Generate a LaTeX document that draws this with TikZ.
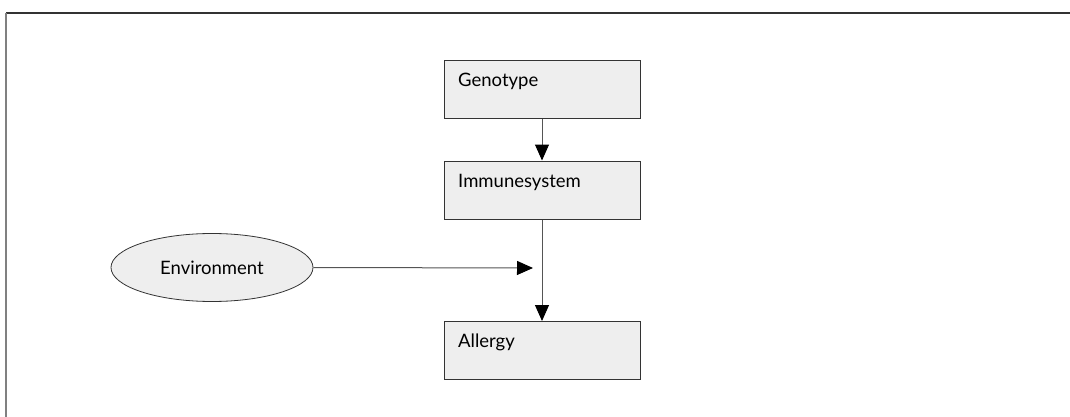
\documentclass[tikz,border=0pt]{standalone}
\usepackage{fontspec}
\setmainfont{Lato}
\usetikzlibrary{arrows.meta,shapes.geometric}
\definecolor{boxfill}{HTML}{EEEEEE}
\definecolor{boxline}{HTML}{333333}
\definecolor{conn}{HTML}{555555}
\tikzset{
  x=1pt,y=-1pt,
  box/.style={draw=boxline,line width=1pt,fill=boxfill,minimum width=196pt,minimum height=58pt,inner sep=0pt},
  lbl/.style={anchor=base west,font=\fontsize{18.5}{20}\selectfont,text=black,inner sep=0pt},
  oval/.style={ellipse,draw=boxline,line width=0.8pt,fill=boxfill,minimum width=202pt,minimum height=68pt,inner sep=0pt,font=\fontsize{18.5}{20}\selectfont},
  conn/.style={draw=conn,line width=1pt,-{Triangle[length=16pt,width=14pt,color=black]}}
}
\begin{document}
\begin{tikzpicture}
\useasboundingbox (0,0) rectangle (1070,417);
\draw[boxline,line width=2pt] (6,13.5) -- (1070,13.5);
\draw[gray,line width=2.5pt] (6,13) -- (6,417);
\node[box] (geno) at (542,90) {};
\node[box] (imm) at (542,190) {};
\node[box] (all) at (542,350.5) {};
\node[lbl] (genot) at (458,87) {Genotype};
\node[lbl] (immt) at (458,187) {Immunesystem};
\node[lbl] (allt) at (458,347) {Allergy};
\node[oval] (env) at (212,267.5) {Environment};
\coordinate (tip) at (533,268);
\draw[conn] (geno.south) -- (imm.north);
\draw[conn] (imm.south) -- (all.north);
\draw[conn] (env.east) -- (tip);
\end{tikzpicture}
\end{document}
